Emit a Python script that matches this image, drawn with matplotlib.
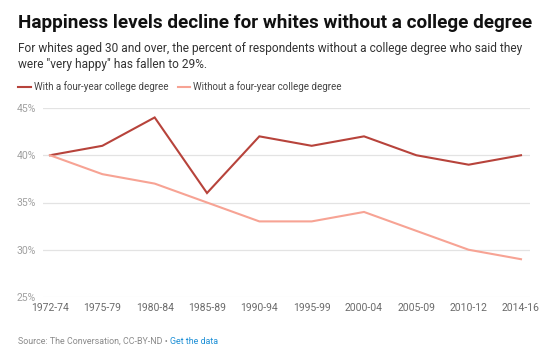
import matplotlib
matplotlib.use("Agg")
import matplotlib.pyplot as plt

periods = ["1972-74", "1975-79", "1980-84", "1985-89", "1990-94",
           "1995-99", "2000-04", "2005-09", "2010-12", "2014-16"]
with_degree = [40, 41, 44, 36, 42, 41, 42, 40, 39, 40]
without_degree = [40, 38, 37, 35, 33, 33, 34, 32, 30, 29]
y_ticks = [25, 30, 35, 40, 45]

C_WITH = "#b7433b"
C_WITHOUT = "#f7a394"

plt.rcParams['font.family'] = ['Roboto', 'DejaVu Sans']

W, H = 560, 364
fig = plt.figure(figsize=(W / 100, H / 100), dpi=100)

def fx(px):
    return px / W

def fy(py):
    return 1 - py / H

ax = fig.add_axes([fx(43), fy(297), fx(530) - fx(43), fy(108) - fy(297)])
x = list(range(len(periods)))
ax.plot(x, with_degree, color=C_WITH, lw=1.5, solid_joinstyle='miter', zorder=3)
ax.plot(x, without_degree, color=C_WITHOUT, lw=1.5, solid_joinstyle='miter', zorder=3)

sp = (521 - 50) / 9
ax.set_xlim(-7 / sp, 9 + 9 / sp)
ax.set_ylim(25, 45)
ax.set_yticks(y_ticks)
ax.set_yticklabels([f"{v}%" for v in y_ticks])
ax.set_xticks(x)
ax.set_xticklabels(periods)
for s in ax.spines.values():
    s.set_visible(False)
ax.tick_params(axis='y', length=0, pad=5, labelsize=7.5, labelcolor="#a0a0a0")
ax.tick_params(axis='x', length=0, pad=4, labelsize=7.5, labelcolor="#6b6b6b")
for v in y_ticks:
    ax.axhline(v, color="#e3e3e3" if v != 25 else "#f0f0f0", lw=0.9, zorder=1)

fig.text(fx(18), fy(28), "Happiness levels decline for whites without a college degree",
         fontsize=13.55, fontweight='bold', color="#111111", ha='left', va='baseline')
fig.text(fx(18), fy(52), "For whites aged 30 and over, the percent of respondents without a college degree who said they",
         fontsize=8.6, color="#333333", ha='left', va='baseline')
fig.text(fx(18), fy(68), "were \"very happy\" has fallen to 29%.",
         fontsize=8.6, color="#333333", ha='left', va='baseline')

# legend
ly = fy(87)
fig.add_artist(plt.Line2D([fx(18), fx(31)], [ly, ly], color=C_WITH, lw=1.5))
fig.text(fx(34), ly, "With a four-year college degree", fontsize=7.0, color="#444444",
         ha='left', va='center')
fig.add_artist(plt.Line2D([fx(178), fx(190)], [ly, ly], color=C_WITHOUT, lw=1.5))
fig.text(fx(193), ly, "Without a four-year college degree", fontsize=7.0, color="#444444",
         ha='left', va='center')

t = fig.text(fx(18), fy(344), "Source: The Conversation, CC-BY-ND \u2022 ", fontsize=6.4,
             color="#8a8a8a", ha='left', va='baseline')
fig.canvas.draw()
bb = t.get_window_extent()
fig.text(bb.x1 / (W), fy(344), "Get the data", fontsize=6.4, color="#1c8fd6",
         ha='left', va='baseline')

fig.savefig("out.png", dpi=100)
